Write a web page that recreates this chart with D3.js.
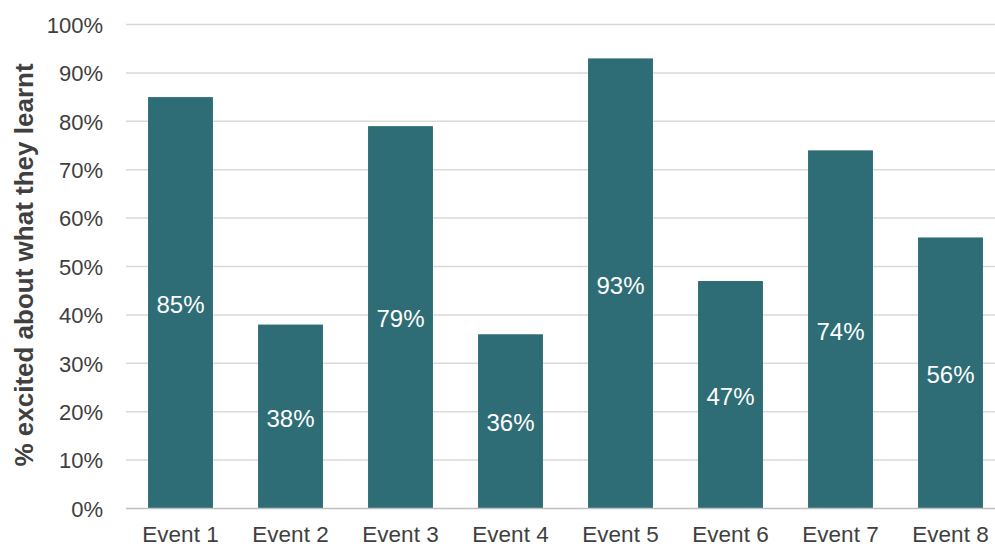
<!DOCTYPE html>
<html><head><meta charset="utf-8">
<script src="https://cdn.jsdelivr.net/npm/d3@7"></script>
<style>body{margin:0;background:#fff;overflow:hidden}svg{display:block}text{font-family:"Liberation Sans",Arial,sans-serif}</style>
</head><body>
<svg id="c" width="995" height="547"></svg>
<script>
const categories = ["Event 1","Event 2","Event 3","Event 4","Event 5","Event 6","Event 7","Event 8"];
const values = [85,38,79,36,93,47,74,56];
const yTicks = [0,10,20,30,40,50,60,70,80,90,100];
const yTitle = "% excited about what they learnt";

const svg = d3.select("#c");
const y = d3.scaleLinear().domain([0,100]).range([508.5,24.5]);
const x = d3.scaleBand().domain(categories).range([125.5,1005.5]).paddingInner(0.41).paddingOuter(0.205);

// gridlines
svg.append("g").selectAll("line").data(yTicks.filter(d=>d>0)).join("line")
  .attr("x1",126).attr("x2",995).attr("y1",d=>y(d)).attr("y2",d=>y(d))
  .attr("stroke","#d9d9d9").attr("stroke-width",1.5);

// bars
svg.append("g").selectAll("rect").data(values).join("rect")
  .attr("x",(d,i)=>x(categories[i])).attr("width",x.bandwidth())
  .attr("y",d=>y(d)).attr("height",d=>y(0)-y(d))
  .attr("fill","#2e6d75");

// baseline
svg.append("line").attr("x1",126).attr("x2",995).attr("y1",y(0)).attr("y2",y(0))
  .attr("stroke","#bfbfbf").attr("stroke-width",1.5);

// y labels
const yAxis = d3.axisLeft(y).tickValues(yTicks).tickFormat(d=>d+"%").tickSize(0).tickPadding(0);
const ga = svg.append("g").attr("transform","translate(103,0)").call(yAxis);
ga.select(".domain").remove();
ga.selectAll("text").attr("font-size",22).attr("fill","#404040").attr("dy","0.35em").attr("font-family","Liberation Sans, Arial, sans-serif");

// x labels
const xAxis = d3.axisBottom(x).tickSize(0).tickPadding(0);
const gx = svg.append("g").attr("transform","translate(0,526)").call(xAxis);
gx.select(".domain").remove();
gx.selectAll("text").attr("font-size",22.5).attr("fill","#404040").attr("font-family","Liberation Sans, Arial, sans-serif");

// data labels
svg.append("g").selectAll("text").data(values).join("text")
  .attr("x",(d,i)=>x(categories[i])+x.bandwidth()/2)
  .attr("y",d=>(y(d)+y(0))/2).attr("dy","0.42em")
  .attr("text-anchor","middle").attr("fill","#fff").attr("font-size",24)
  .text(d=>d+"%");

// y title
svg.append("text").attr("transform","translate(33,265) rotate(-90)")
  .attr("text-anchor","middle").attr("font-weight","bold").attr("font-size",26).attr("fill","#404040")
  .text(yTitle);
</script>
</body></html>
